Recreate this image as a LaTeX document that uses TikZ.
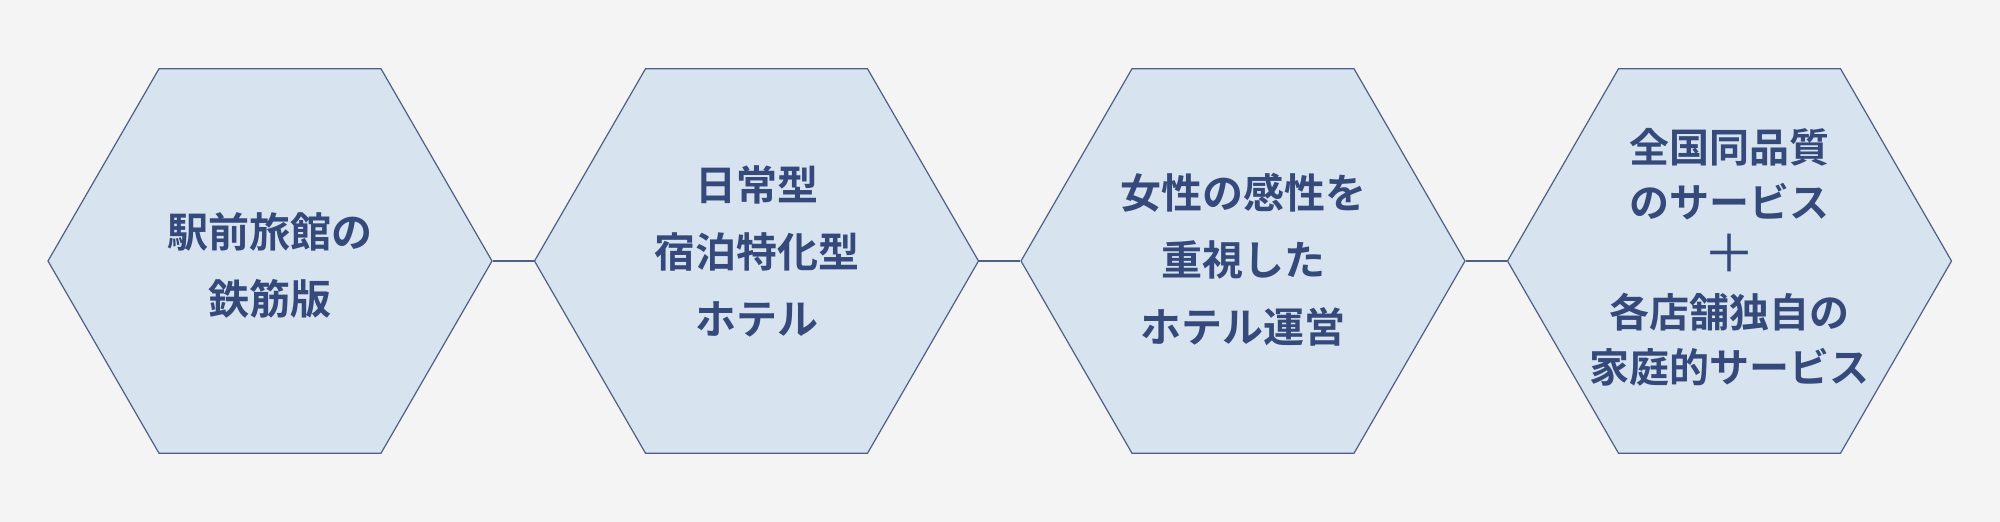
\documentclass[tikz,border=0pt]{standalone}
\usepackage{fontspec}
\usetikzlibrary{shapes.geometric}
\newfontfamily\cjk{Noto Sans CJK JP}[BoldFont={Noto Sans CJK JP Bold}]
\definecolor{bgc}{HTML}{F4F4F4}
\definecolor{hexfill}{HTML}{D8E3F0}
\definecolor{hexline}{HTML}{4F5F85}
\definecolor{txt}{HTML}{354A7B}
\tikzset{
  hexbox/.style={regular polygon, regular polygon sides=6,
    minimum size=222pt, inner sep=0pt, draw=hexline, fill=hexfill, line width=0.6pt},
  hexlink/.style={draw=hexline, line width=1.1pt},
  hextext/.style={text=txt, align=center, inner sep=0pt,
    font=\cjk\bfseries\fontsize{20.5pt}{33.5pt}\selectfont},
  hextextb/.style={hextext, font=\cjk\bfseries\fontsize{20pt}{27.5pt}\selectfont}
}
\begin{document}
\begin{tikzpicture}[x=0.5pt,y=-0.5pt]
\fill[bgc] (0,0) rectangle (2000,522);
\useasboundingbox (0,0) rectangle (2000,522);
\node[hexbox] (h1) at (270,261) {};
\node[hexbox] (h2) at (756.5,261) {};
\node[hexbox] (h3) at (1243,261) {};
\node[hexbox] (h4) at (1729.5,261) {};
\draw[hexlink] (h1) -- (h2);
\draw[hexlink] (h2) -- (h3);
\draw[hexlink] (h3) -- (h4);
\node[hextext] (t1) at (270,265) {駅前旅館の\\鉄筋版};
\node[hextext] (t2) at (756.5,251.5) {日常型\\宿泊特化型\\ホテル};
\node[hextext] (t3) at (1243,259.5) {女性の感性を\\重視した\\ホテル運営};
\node[hextextb] (t4) at (1729.5,257) {全国同品質\\のサービス\\{\mdseries\fontsize{26pt}{27.5pt}\selectfont ＋}\\各店舗独自の\\家庭的サービス};
\end{tikzpicture}
\end{document}
